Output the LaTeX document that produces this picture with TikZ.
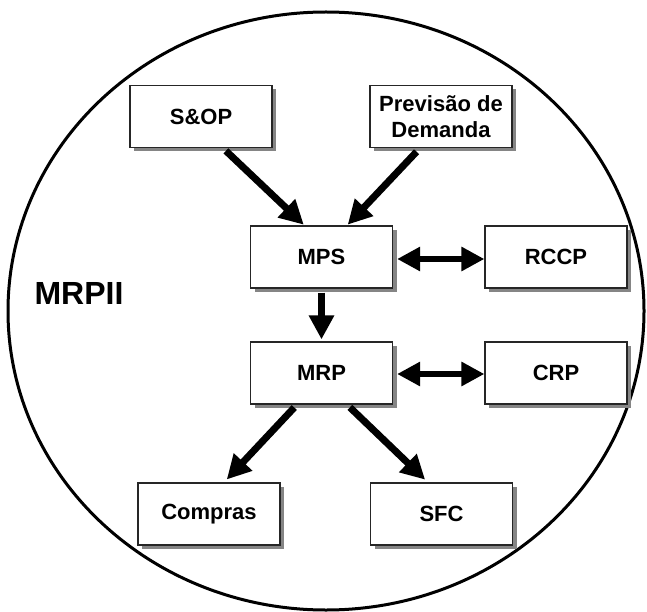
\documentclass[tikz,border=0pt]{standalone}
\usepackage{fontspec}
\setmainfont{Liberation Sans}
\usepackage{tikz}
\usetikzlibrary{arrows.meta,shadows,positioning}

\begin{document}
\begin{tikzpicture}[
x=1pt, y=-1pt,
font=\bfseries\fontsize{22}{26}\selectfont,
block/.style={draw=black!85, line width=1.2pt, fill=white,
  minimum width=142pt, minimum height=62pt, align=center, inner sep=0pt,
  drop shadow={shadow xshift=4pt, shadow yshift=-4pt, fill=black!48, opacity=1}},
flow/.style={line width=7pt, -{Triangle[length=24pt,width=24pt]}},
twoway/.style={line width=6.5pt, {Triangle[length=23pt,width=23pt]}-{Triangle[length=23pt,width=23pt]}}
]
    \useasboundingbox (0,0) rectangle (647,612);

    % Draw border
    \draw [line width=3pt] (326,311) ellipse [x radius=318, y radius=299];
    \node (mrpii) [inner sep=0pt] at (79,293.5) {\fontsize{32}{32}\selectfont MRPII};

    % Draw blocks
    \node[block] (sop) at (201,116.5) {S\&OP};
    \node[block] (prev) at (441,116.5) {Previsão de\\Demanda};
    \node[block] (mps) at (321.5,257) {MPS};
    \node[block] (rccp) at (556,257) {RCCP};
    \node[block] (mrp) at (321.5,373) {MRP};
    \node[block] (crp) at (556,373) {CRP};
    \node[block] (compras) at (209,514) {Compras};
    \node[block] (sfc) at (441.5,514) {SFC};

    \draw[flow, shorten <=4pt, shorten >=1pt] ([xshift=22pt]sop.south) -- ([xshift=-17pt]mps.north);
    \draw[flow, shorten <=5pt, shorten >=1pt] ([xshift=-21pt]prev.south) -- ([xshift=25.5pt]mps.north);
    \draw[flow, shorten <=4pt, shorten >=2pt] (mps.south) -- (mrp.north);
    \draw[twoway, shorten <=4pt] ([yshift=-2pt]mps.east) -- ([yshift=-2pt]rccp.west);
    \draw[twoway, shorten <=4pt] ([yshift=-1pt]mrp.east) -- ([yshift=-1pt]crp.west);
    \draw[flow, shorten <=4pt, shorten >=4pt] ([xshift=-24.5pt]mrp.south) -- ([xshift=15pt]compras.north);
    \draw[flow, shorten <=4pt, shorten >=4pt] ([xshift=25.5pt]mrp.south) -- ([xshift=-13.5pt]sfc.north);
\end{tikzpicture}
\end{document}
